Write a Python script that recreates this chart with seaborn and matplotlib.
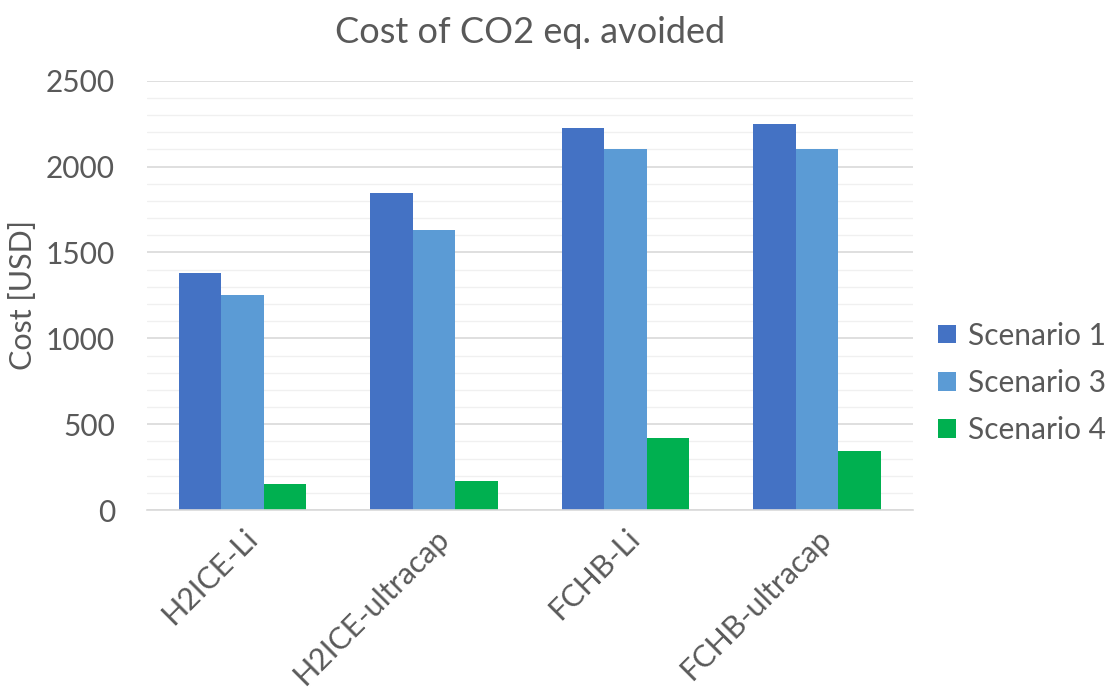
import matplotlib
matplotlib.use("Agg")
import matplotlib.pyplot as plt
import seaborn as sns
import pandas as pd
from matplotlib.ticker import MultipleLocator, FixedLocator
from matplotlib.patches import Patch

categories = ["H2ICE-Li", "H2ICE-ultracap", "FCHB-Li", "FCHB-ultracap"]
scenario_1 = [1380, 1844, 2223, 2246]
scenario_3 = [1251, 1631, 2104, 2101]
scenario_4 = [151, 169, 417, 345]
series_names = ["Scenario 1", "Scenario 3", "Scenario 4"]
colors = ["#4472C4", "#5B9BD5", "#00B050"]

rows = []
for name, vals in zip(series_names, [scenario_1, scenario_3, scenario_4]):
    for c, v in zip(categories, vals):
        rows.append({"Category": c, "Scenario": name, "Cost": v})
df = pd.DataFrame(rows)

sns.set_theme(style="white")
plt.rcParams["font.family"] = ["Lato", "DejaVu Sans"]
txt = "#595959"

fig = plt.figure(figsize=(11.13, 6.95), dpi=100)
ax = fig.add_axes([0.132, 0.266, 0.688, 0.618])

sns.barplot(data=df, x="Category", y="Cost", hue="Scenario", order=categories,
            hue_order=series_names, palette=colors, width=0.667, gap=0,
            saturation=1, ax=ax, legend=False, edgecolor="none", linewidth=0)

ax.set_ylim(0, 2500)
ax.set_xlim(-0.5, 3.5)
ax.yaxis.set_major_locator(MultipleLocator(500))
ax.yaxis.set_minor_locator(MultipleLocator(100))
ax.grid(which="major", axis="y", color="#d9d9d9", linewidth=1.2)
ax.grid(which="minor", axis="y", color="#f0f0f0", linewidth=1.0)
ax.set_axisbelow(True)

for s in ["top", "right", "left"]:
    ax.spines[s].set_visible(False)
ax.spines["bottom"].set_color("#d9d9d9")
ax.spines["bottom"].set_linewidth(1.2)

ax.xaxis.set_major_locator(FixedLocator([0, 1, 2, 3]))
ax.xaxis.set_minor_locator(FixedLocator([-0.5, 0.5, 1.5, 2.5, 3.5]))
ax.tick_params(axis="x", which="both", direction="out", colors=txt,
               labelsize=22, pad=4)
ax.tick_params(axis="x", which="minor", length=7, color="#d9d9d9", width=1.2)
ax.tick_params(axis="x", which="major", length=6, color="#d9d9d9", width=1.2)
ax.tick_params(axis="y", which="both", length=0, colors=txt, labelsize=21.5, pad=23)
ax.set_xticks([0, 1, 2, 3])
ax.set_xticklabels(categories, rotation=45, ha="right", rotation_mode="anchor", color=txt)
for lab in ax.get_yticklabels():
    lab.set_color(txt)

ax.set_xlabel("")
ax.set_ylabel("Cost [USD]", fontsize=22, color=txt, labelpad=6)
ax.set_title("Cost of CO2 eq. avoided", fontsize=26, color=txt, pad=27)

handles = [Patch(facecolor=c, edgecolor="none", label=n) for c, n in zip(colors, series_names)]
leg = fig.legend(handles=handles, loc="center left", bbox_to_anchor=(0.843, 0.449),
                 frameon=False, fontsize=21.5, handlelength=0.6, handleheight=0.6,
                 handletextpad=0.4, labelspacing=0.65, borderpad=0, borderaxespad=0)
for t in leg.get_texts():
    t.set_color(txt)

fig.savefig("out.png", dpi=100)
